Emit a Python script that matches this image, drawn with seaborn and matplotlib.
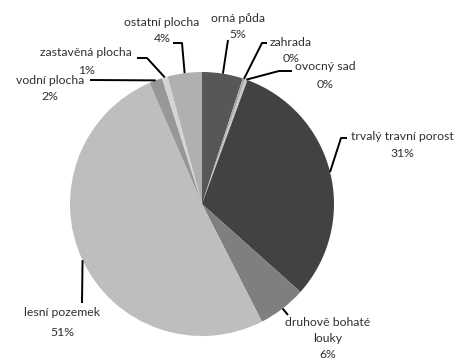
import matplotlib
matplotlib.use("Agg")
import matplotlib.pyplot as plt
import seaborn as sns
import numpy as np

categories = ["orná půda", "zahrada", "ovocný sad", "trvalý travní porost",
              "druhově bohaté louky", "lesní pozemek", "vodní plocha",
              "zastavěná plocha", "ostatní plocha"]
values = [5.0, 0.3, 0.3, 31.0, 5.9, 51.0, 1.6, 0.7, 4.2]
colors = ["#575757", "#a8a8a8", "#c8c8c8", "#424242", "#7f7f7f",
          "#bebebe", "#979797", "#d4d4d4", "#b0b0b0"]

sns.set_theme(style="white")
plt.rcParams['font.family'] = ['Lato', 'DejaVu Sans']

W, H = 456, 360
fig = plt.figure(figsize=(W / 100, H / 100), dpi=100)
ax = fig.add_axes([0, 0, 1, 1])

cx, cy, R = 202, 204, 132
wedges, _ = ax.pie(values, colors=colors, startangle=90, counterclock=False,
                   center=(cx, H - cy), radius=R,
                   wedgeprops=dict(linewidth=0))
ax.set_xlim(0, W)
ax.set_ylim(0, H)
ax.set_aspect('equal')
ax.axis('off')

# label layout (pixel coords, y from top): text lines, centre x, first line y, line step, leader path
layout = {
    "orná půda": (["orná půda"], 238, 18, 17, [(228, 40), (223, 73)]),
    "zahrada": (["zahrada"], 291, 42, 16, [(267, 43), (262, 43)]),
    "ovocný sad": (["ovocný sad"], 325, 67, 18, [(292, 71), (279, 71)]),
    "trvalý travní porost": (["trvalý travní porost"], 402, 137, 17, [(347, 138), (341, 138)]),
    "druhově bohaté louky": (["druhově bohaté", "louky"], 328, 322, 16, [(288, 315)]),
    "lesní pozemek": (["lesní pozemek"], 62, 313, 19, [(82, 303)]),
    "vodní plocha": (["vodní plocha"], 50, 80, 16, [(90, 80)]),
    "zastavěná plocha": (["zastavěná plocha"], 86, 53, 17, [(137, 58), (147, 58)]),
    "ostatní plocha": (["ostatní plocha"], 162, 22, 17, [(173, 43), (182, 43)]),
}

fs = 8.8
tc = "#303030"
for w, cat, v in zip(wedges, categories, values):
    lines, x, y0, step, path = layout[cat]
    lines = lines + [f"{v:.0f}%"]
    for i, t in enumerate(lines):
        ax.text(x, H - (y0 + i * step), t, ha="center", va="center",
                fontsize=fs, color=tc)
    mid = np.deg2rad((w.theta1 + w.theta2) / 2)
    ex = cx + R * np.cos(mid)
    ey = (H - cy) + R * np.sin(mid)
    xs = [p[0] for p in path] + [ex]
    ys = [H - p[1] for p in path] + [ey]
    ax.plot(xs, ys, color="black", lw=1.4, solid_capstyle="butt")

fig.savefig("out.png", dpi=100)
